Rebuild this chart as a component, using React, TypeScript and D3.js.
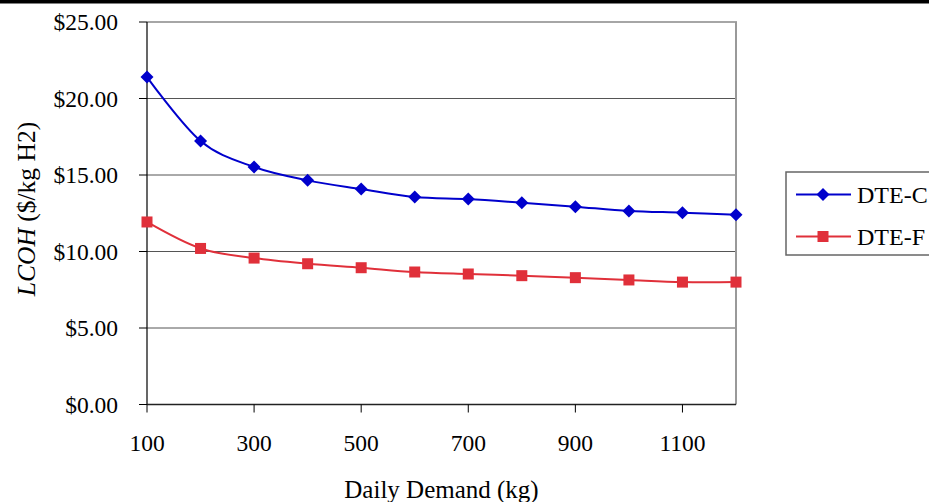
import React from "react";
import * as d3 from "d3";

const demand = [100, 200, 300, 400, 500, 600, 700, 800, 900, 1000, 1100, 1200];
const dteC = [21.4, 17.22, 15.52, 14.65, 14.08, 13.56, 13.43, 13.19, 12.93, 12.65, 12.54, 12.41];
const dteF = [11.93, 10.2, 9.57, 9.2, 8.94, 8.66, 8.53, 8.42, 8.29, 8.14, 8.0, 8.0];
const yTicks = [0, 5, 10, 15, 20, 25];
const xTicks = [100, 300, 500, 700, 900, 1100];
const seriesNames = ["DTE-C", "DTE-F"];

const W = 929;
const H = 502;
const left = 147;
const right = 736;
const top = 22;
const bottom = 404.5;
const BLUE = "#0000CC";
const RED = "#E0303A";
const FONT = "'Liberation Serif', 'Times New Roman', serif";

export default function App() {
  const x = d3.scaleLinear().domain([100, 1200]).range([left, right]);
  const y = d3.scaleLinear().domain([0, 25]).range([bottom, top]);
  const line = d3
    .line<number>()
    .x((_, i) => x(demand[i]))
    .y((d) => y(d))
    .curve(d3.curveCatmullRom.alpha(0));
  const fmt = (v: number) => "$" + v.toFixed(2);

  const diamond = (cx: number, cy: number, r: number) =>
    `M${cx},${cy - r}L${cx + r},${cy}L${cx},${cy + r}L${cx - r},${cy}Z`;

  return (
    <svg
      width={W}
      height={H}
      style={{ position: "absolute", left: 0, top: 0, background: "#fff" }}
      fontFamily={FONT}
    >
      <rect x={0} y={0} width={W} height={H} fill="#fff" />
      <line x1={0} x2={W} y1={1.75} y2={1.75} stroke="#000" strokeWidth={3.5} />
      {/* gridlines */}
      {yTicks.filter((t) => t > 0 && t < 25).map((t) => (
        <line key={t} x1={left} x2={right} y1={y(t)} y2={y(t)} stroke="#555" strokeWidth={1} />
      ))}
      {/* plot border top/right */}
      <line x1={left} x2={right + 1} y1={y(25)} y2={y(25)} stroke="#888" strokeWidth={1.5} />
      <line x1={right} x2={right} y1={y(25)} y2={bottom} stroke="#999" strokeWidth={2} />
      {/* axes */}
      <line x1={left} x2={left} y1={top} y2={bottom} stroke="#000" strokeWidth={1.2} />
      <line x1={left} x2={right} y1={bottom} y2={bottom} stroke="#222" strokeWidth={1.5} />
      {yTicks.map((t) => (
        <g key={t}>
          <line x1={left - 8} x2={left} y1={y(t)} y2={y(t)} stroke="#000" strokeWidth={1} />
          <text x={118} y={y(t)} dy="0.35em" textAnchor="end" fontSize={23.5} fill="#000">
            {fmt(t)}
          </text>
        </g>
      ))}
      {xTicks.map((t) => (
        <g key={t}>
          <line x1={x(t)} x2={x(t)} y1={bottom} y2={bottom + 8} stroke="#000" strokeWidth={1} />
          <text x={x(t)} y={451} textAnchor="middle" fontSize={23.5} fill="#000">
            {t}
          </text>
        </g>
      ))}
      <text x={(left + right) / 2} y={498} textAnchor="middle" fontSize={25} fill="#000">
        Daily Demand (kg)
      </text>
      <text
        transform={`translate(35,209) rotate(-90)`}
        textAnchor="middle"
        fontSize={25.5}
        fill="#000"
      >
        <tspan fontStyle="italic">LCOH</tspan> ($/kg H2)
      </text>
      {/* series */}
      <path d={line(dteF) || ""} fill="none" stroke={RED} strokeWidth={2} />
      <path d={line(dteC) || ""} fill="none" stroke={BLUE} strokeWidth={2} />
      {dteF.map((v, i) => (
        <rect key={i} x={x(demand[i]) - 5.5} y={y(v) - 5.5} width={11} height={11} fill={RED} />
      ))}
      {dteC.map((v, i) => (
        <path key={i} d={diamond(x(demand[i]), y(v), 6.5)} fill={BLUE} />
      ))}
      {/* legend */}
      <rect x={786} y={172} width={160} height={83} fill="#fff" stroke="#666" strokeWidth={1.5} />
      {seriesNames.map((name, i) => {
        const ly = i === 0 ? 194.5 : 236.5;
        const col = i === 0 ? BLUE : RED;
        return (
          <g key={name}>
            <line x1={796} x2={851} y1={ly} y2={ly} stroke={col} strokeWidth={2} />
            {i === 0 ? (
              <path d={diamond(823, ly, 6.5)} fill={col} />
            ) : (
              <rect x={823 - 5.5} y={ly - 5.5} width={11} height={11} fill={col} />
            )}
            <text x={857} y={ly} dy="0.35em" fontSize={24} fill="#000">
              {name}
            </text>
          </g>
        );
      })}
    </svg>
  );
}
